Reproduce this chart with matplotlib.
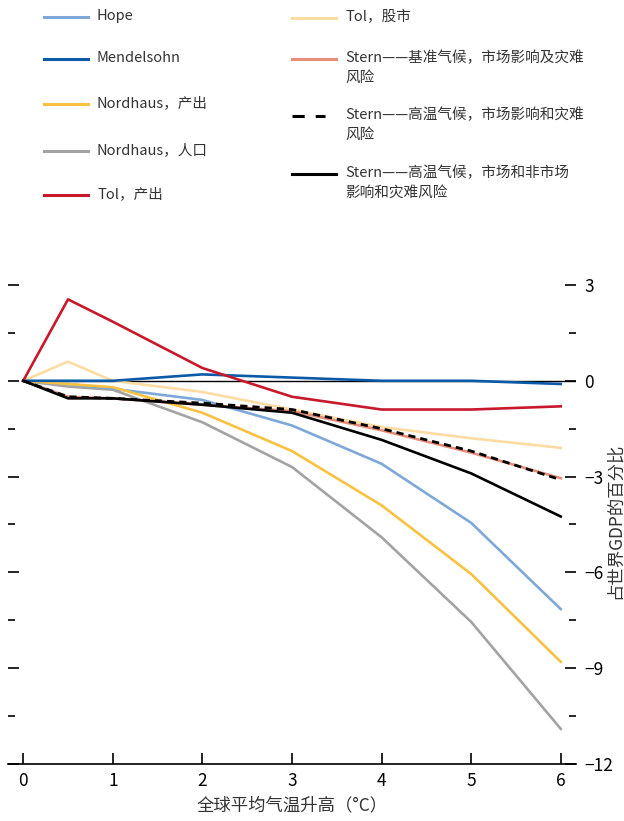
import matplotlib
matplotlib.use('Agg')
import matplotlib.pyplot as plt
from matplotlib.lines import Line2D

plt.rcParams['font.family'] = ['Noto Sans CJK SC', 'DejaVu Sans']

# 数据
temps = [0, 0.5, 1, 2, 3, 4, 5, 6]
hope = [0, -0.1, -0.25, -0.6, -1.4, -2.6, -4.45, -7.15]
mendelsohn = [0, 0, 0, 0.2, 0.1, 0, 0, -0.1]
nordhaus_output = [0, -0.1, -0.2, -1.0, -2.2, -3.9, -6.05, -8.8]
nordhaus_pop = [0, -0.18, -0.28, -1.3, -2.7, -4.9, -7.55, -10.9]
tol_output = [0, 2.55, 1.85, 0.4, -0.5, -0.9, -0.9, -0.8]
tol_stock = [0, 0.6, 0, -0.35, -0.9, -1.45, -1.8, -2.1]
stern_base = [0, -0.5, -0.55, -0.75, -0.95, -1.55, -2.25, -3.05]
stern_high = [0, -0.5, -0.55, -0.7, -0.9, -1.5, -2.2, -3.1]
stern_high_nm = [0, -0.55, -0.55, -0.75, -1.0, -1.85, -2.9, -4.25]

labels = ['Hope', 'Mendelsohn', 'Nordhaus，产出', 'Nordhaus，人口', 'Tol，产出',
          'Tol，股市', 'Stern——基准气候，市场影响及灾难\n风险',
          'Stern——高温气候，市场影响和灾难\n风险',
          'Stern——高温气候，市场和非市场\n影响和灾难风险']
series = [hope, mendelsohn, nordhaus_output, nordhaus_pop, tol_output,
          tol_stock, stern_base, stern_high, stern_high_nm]
colors = ['#7ea8d8', '#0b5aa8', '#f9c141', '#a3a3a3', '#c8182c',
          '#fcdca3', '#e68e79', 'black', 'black']
styles = ['-', '-', '-', '-', '-', '-', '-', '--', '-']
zorders = [4, 6, 4, 3, 7, 2, 5, 6, 7]

fig = plt.figure(figsize=(6.24, 8.21), dpi=100)
ax = fig.add_axes([8 / 624, 1 - 764 / 821, 568 / 624, (764 - 278.6) / 821])

ax.hlines(0, 0, 6.17, color='black', lw=1.0, zorder=1)

for vals, c, ls, z in zip(series, colors, styles, zorders):
    if ls == '--':
        ax.plot(temps, vals, color=c, lw=2.0, dashes=(2.6, 1.8), zorder=z)
    else:
        ax.plot(temps, vals, color=c, lw=1.9, zorder=z)

ax.set_xlim(-0.17, 6.17)
ax.set_ylim(-12, 3.2)
for s in ['top', 'left', 'right']:
    ax.spines[s].set_visible(False)
ax.spines['bottom'].set_linewidth(1.2)

ax.set_xticks(range(0, 7))
ax.tick_params(axis='x', direction='in', length=8, width=1.2, labelsize=12.5, pad=6)
ax.set_yticks([3, 0, -3, -6, -9, -12])
ax.set_yticks([1.5, -1.5, -4.5, -7.5, -10.5], minor=True)
ax.yaxis.tick_right()
ax.tick_params(axis='y', which='major', direction='in', length=8, width=1.2,
               left=True, right=True, labelleft=False, labelright=True,
               labelsize=12.5, pad=6)
ax.tick_params(axis='y', which='minor', direction='in', length=5, width=1.2,
               left=True, right=True)
ax.yaxis.set_label_position('right')
ax.set_ylabel('占世界GDP的百分比', fontsize=12.5, rotation=90, color='#333333',
              va='center', ha='center')
ax.yaxis.set_label_coords(1.069, 0.5)
ax.set_xlabel('全球平均气温升高（°C）', fontsize=12.5, labelpad=4, color='#333333')

# 图例 (手动布置)
def fx(px):
    return px / 624

def fy(py):
    return 1 - py / 821

left_rows = [17, 59, 104, 151, 195]
right_rows = [18, 59, 116, 174]
positions = [(44, y) for y in left_rows] + [(292, y) for y in right_rows]

for (px, py), lab, c, ls in zip(positions, labels, colors, styles):
    if ls == '--':
        fig.add_artist(Line2D([fx(px), fx(px + 33)], [fy(py), fy(py)], color=c,
                              lw=2.2, dashes=(4, 3.6)))
    else:
        fig.add_artist(Line2D([fx(px), fx(px + 44)], [fy(py), fy(py)], color=c, lw=2.2))
    if '\n' in lab:
        fig.text(fx(px + 53), fy(py - 8), lab, fontsize=10.5, va='top', ha='left',
                 color='#333333', linespacing=1.45)
    else:
        fig.text(fx(px + 53), fy(py - 1), lab, fontsize=10.5, va='center', ha='left',
                 color='#333333')

fig.savefig('out.png', dpi=100)
